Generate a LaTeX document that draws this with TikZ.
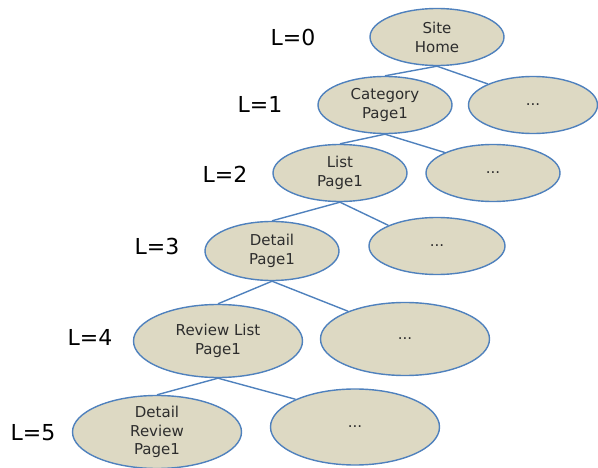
\documentclass[tikz,border=0pt]{standalone}
\usepackage{fontspec}
\setmainfont{DejaVu Sans}
\usetikzlibrary{shapes.geometric}
\definecolor{pagefill}{RGB}{221,217,195}
\definecolor{pageedge}{RGB}{79,129,189}
\definecolor{pagetext}{RGB}{45,45,45}
\tikzset{
  pg/.style={ellipse, draw=pageedge, fill=pagefill, line width=1.4pt,
    inner sep=0pt, align=center, text=pagetext,
    font=\fontsize{15}{19}\selectfont},
  small/.style={minimum width=134pt, minimum height=57pt},
  big/.style={minimum width=169pt, minimum height=73pt},
  lvl/.style={font=\fontsize{22}{24}\selectfont, text=black},
  link/.style={draw=pageedge, line width=1.4pt}
}
\begin{document}
\begin{tikzpicture}[x=1pt,y=-1pt]
\useasboundingbox (0,0) rectangle (598,468);

% pages, one row per level
\node[pg, small] (home) at (437,37) {Site\\Home};
\node[pg, small] (cat)  at (385,105) {Category\\Page1};
\node[pg, small, minimum width=129pt] (d1) at (533,105) {...};
\node[pg, small] (list) at (340,173) {List\\Page1};
\node[pg, small] (d2)   at (493,173) {...};
\node[pg, small, minimum height=59pt] (det) at (272,251) {Detail\\Page1};
\node[pg, small, minimum width=136pt] (d3) at (437,246) {...};
\node[pg, big] (rev) at (218,341) {Review List\\Page1};
\node[pg, big] (d4)  at (405,339) {...};
\node[pg, big, font=\fontsize{15}{18.5}\selectfont] (drev) at (157,432) {Detail\\Review\\Page1};
\node[pg, big, minimum height=76pt] (d5) at (355,427) {...};

% level labels
\node[lvl] (l0) at (293,37) {L=0};
\node[lvl] (l1) at (260,104) {L=1};
\node[lvl] (l2) at (225,174) {L=2};
\node[lvl] (l3) at (157,246) {L=3};
\node[lvl] (l4) at (90,337) {L=4};
\node[lvl] (l5) at (33,433) {L=5};

% parent-child links
\path[link] (home.south) -- (cat.north);
\path[link] (home.south) -- (d1.155);
\path[link] (cat.south) -- (list.north);
\path[link] (cat.south) -- (d2.157);
\path[link] (list.south) -- (det.north);
\path[link] (list.south) -- (d3.157);
\path[link] (det.south) -- (rev.north);
\path[link] (det.south) -- (d4.154);
\path[link] (rev.south) -- (drev.north);
\path[link] (rev.south) -- (d5.155);
\end{tikzpicture}
\end{document}
